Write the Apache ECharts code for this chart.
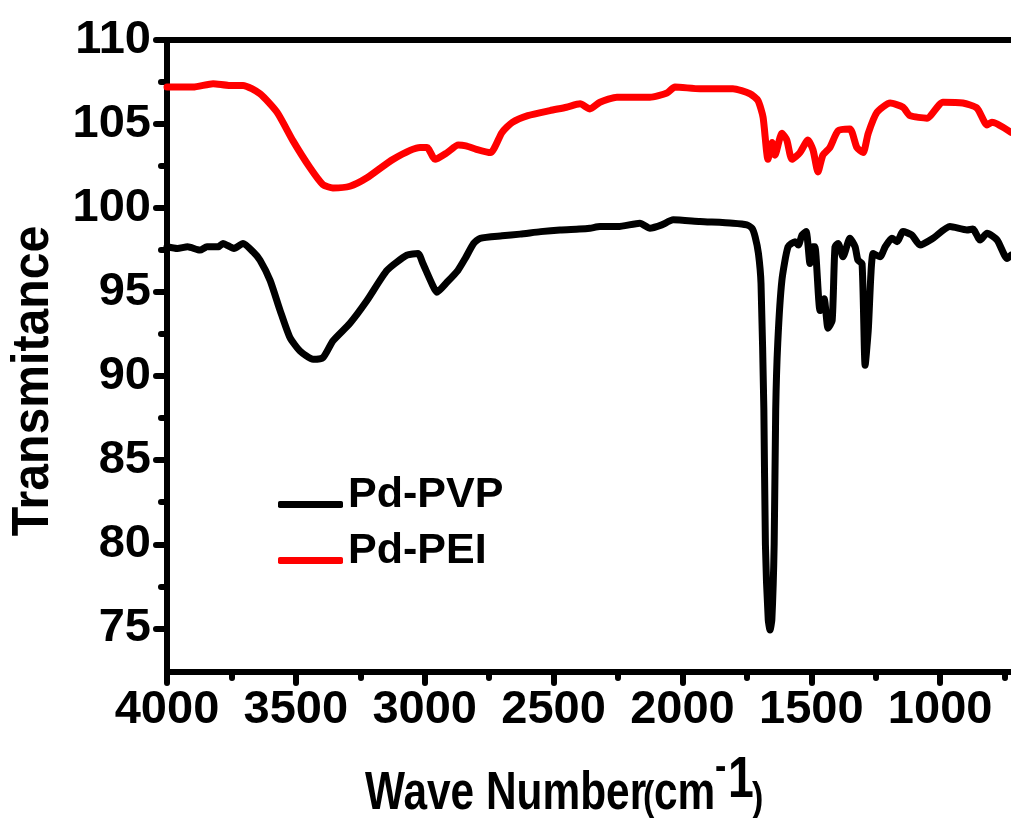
<!DOCTYPE html>
<html>
<head>
<meta charset="utf-8">
<script src="https://cdn.jsdelivr.net/npm/echarts@6/dist/echarts.min.js"></script>
<style>html,body{margin:0;padding:0;background:#fff}#c{width:1011px;height:818px}</style>
</head>
<body>
<div id="c"></div>
<script>
// ---- data ----
const pvpWave = [4000,3960,3920,3872,3845,3800,3783,3740,3705,3666,3639,3600,3561,3523,3484,3433,3395,3356,3290,3224,3146,3069,3026,3007,2972,2953,2913,2871,2843,2810,2785,2700,2630,2550,2475,2400,2359,2320,2250,2165,2126,2080,2036,1932,1804,1750,1730,1718,1705,1695,1684,1678,1667,1660,1653,1644,1638,1630,1614,1590,1563,1550,1536,1520,1505,1495,1486,1466,1450,1435,1419,1408,1396,1377,1350,1330,1319,1303,1291,1279,1260,1233,1213,1187,1167,1144,1110,1078,1028,962,896,873,845,818,779,740,725];
const pvpT    = [97.7,97.6,97.7,97.5,97.7,97.7,97.9,97.6,97.9,97.4,96.9,95.7,93.9,92.3,91.5,91.0,91.1,92.1,93.15,94.5,96.3,97.2,97.3,96.7,95.5,95.0,95.6,96.3,97.0,97.9,98.2,98.35,98.45,98.6,98.7,98.75,98.8,98.9,98.9,99.1,98.8,99.0,99.3,99.2,99.1,99.0,98.8,98.3,97.3,95.5,88,80,75.5,74.9,75.5,80,88,92,95.7,97.7,98.0,97.8,98.4,98.6,96.7,97.7,97.7,93.9,94.6,92.85,93.3,97.7,97.9,97.1,98.2,97.7,96.9,96.7,90.65,92.7,97.3,97.1,97.7,98.2,98.0,98.6,98.4,97.8,98.2,98.9,98.7,98.75,98.1,98.5,98.1,97.0,97.2];
const peiWave = [4000,3950,3899,3821,3760,3705,3639,3573,3511,3445,3395,3356,3290,3224,3123,3018,2991,2960,2913,2870,2840,2800,2745,2700,2660,2600,2514,2450,2397,2359,2320,2254,2126,2060,2029,1932,1804,1738,1707,1687,1668,1652,1641,1614,1595,1575,1544,1513,1493,1474,1455,1428,1396,1350,1323,1299,1279,1245,1194,1144,1117,1051,989,912,857,818,799,725];
const peiT    = [107.2,107.2,107.2,107.4,107.3,107.3,106.8,105.7,104.0,102.4,101.4,101.2,101.3,101.8,102.9,103.6,103.6,102.9,103.3,103.75,103.7,103.5,103.3,104.5,105.1,105.5,105.8,106.0,106.2,105.9,106.3,106.6,106.6,106.85,107.2,107.1,107.1,106.8,106.4,105.4,102.9,103.9,103.15,104.45,104.05,102.9,103.3,104.05,103.45,102.15,103.15,103.6,104.6,104.7,103.6,103.3,104.45,105.7,106.25,106.0,105.5,105.35,106.3,106.25,105.95,104.95,105.1,104.5];
const seriesNames = ['Pd-PVP','Pd-PEI'];
const xMajor = [1000,1500,2000,2500,3000,3500,4000];
const xMinor = [750,1250,1750,2250,2750,3250,3750];
const yMajor = [75,80,85,90,95,100,105,110];
const yMinor = [77.5,82.5,87.5,92.5,97.5,102.5,107.5];
const yTitle = 'Transmitance';

const zip = (a,b) => a.map((v,i)=>[v,b[i]]);
const labelFont = "'Liberation Sans Narrow','Liberation Sans',Arial,sans-serif";
const tickStyle = {color:'#000', width:6, cap:'round'};

const chart = echarts.init(document.getElementById('c'), null, {renderer:'canvas'});
chart.setOption({
  animation:false,
  backgroundColor:'#fff',
  grid:{left:167,right:0,top:40,bottom:146,containLabel:false},
  legend:{
    left:278, top:474, orient:'vertical', padding:0,
    icon:'roundRect', itemWidth:65, itemHeight:7, itemGap:-5, itemTextGap:3,
    data:seriesNames,
    formatter:name => '{t|' + name + '}',
    textStyle:{color:'#000',fontFamily:"'Liberation Sans',Arial,sans-serif",fontWeight:'bold',fontSize:43,
      rich:{t:{color:'#000',fontFamily:"'Liberation Sans',Arial,sans-serif",fontWeight:'bold',fontSize:43,lineHeight:43,padding:[0,0,18,0]}}}
  },
  xAxis:[
    {type:'value',min:725,max:4000,inverse:true,position:'bottom',
     axisLine:{show:true,onZero:false,lineStyle:{color:'#000',width:6}},
     axisTick:{show:true,length:11,customValues:xMajor,lineStyle:tickStyle},
     axisLabel:{show:true,customValues:xMajor,margin:15,color:'#000',fontFamily:labelFont,fontWeight:'bold',fontSize:47,formatter:v=>String(v)},
     splitLine:{show:false}},
    {type:'value',min:725,max:4000,inverse:true,position:'bottom',
     axisLine:{show:false,onZero:false},
     axisTick:{show:true,length:6,customValues:xMinor,lineStyle:tickStyle},
     axisLabel:{show:false},splitLine:{show:false}},
    {type:'value',min:725,max:4000,inverse:true,position:'top',
     axisLine:{show:true,onZero:false,lineStyle:{color:'#000',width:6}},
     axisTick:{show:false},axisLabel:{show:false},splitLine:{show:false}}
  ],
  yAxis:[
    {type:'value',min:72.4,max:110,position:'left',
     axisLine:{show:true,onZero:false,lineStyle:{color:'#000',width:6}},
     axisTick:{show:true,length:11,customValues:yMajor,lineStyle:tickStyle},
     axisLabel:{show:true,customValues:yMajor,margin:16,color:'#000',fontFamily:labelFont,fontWeight:'bold',fontSize:47,formatter:v=>String(v)},
     splitLine:{show:false}},
    {type:'value',min:72.4,max:110,position:'left',
     axisLine:{show:false,onZero:false},
     axisTick:{show:true,length:6,customValues:yMinor,lineStyle:tickStyle},
     axisLabel:{show:false},splitLine:{show:false}}
  ],
  graphic:[
    {type:'text',x:34,y:381,rotation:Math.PI/2,scaleX:0.926,
     style:{text:yTitle,x:0,y:0,font:"bold 52px 'Liberation Sans',Arial,sans-serif",fill:'#000',align:'center',verticalAlign:'middle',textAlign:'center',textVerticalAlign:'middle'}},
    {type:'text',x:365,y:794,scaleX:0.8,
     style:{text:'Wave Number',x:0,y:0,font:"bold 53px 'Liberation Sans',Arial,sans-serif",fill:'#000',align:'left',verticalAlign:'middle',textAlign:'left',textVerticalAlign:'middle'}},
    {type:'text',x:643,y:799,scaleX:0.85,
     style:{text:'(',x:0,y:0,font:"bold 40px 'Liberation Sans',Arial,sans-serif",fill:'#000',align:'left',verticalAlign:'middle',textAlign:'left',textVerticalAlign:'middle'}},
    {type:'text',x:654,y:794,scaleX:0.8,
     style:{text:'cm',x:0,y:0,font:"bold 53px 'Liberation Sans',Arial,sans-serif",fill:'#000',align:'left',verticalAlign:'middle',textAlign:'left',textVerticalAlign:'middle'}},
    {type:'text',x:715,y:768,scaleX:0.85,
     style:{text:'-',x:0,y:0,font:"bold 40px 'Liberation Sans',Arial,sans-serif",fill:'#000',align:'left',verticalAlign:'middle',textAlign:'left',textVerticalAlign:'middle'}},
    {type:'text',x:728,y:781,scaleX:0.8,
     style:{text:'1',x:0,y:0,font:"bold 58px 'Liberation Sans',Arial,sans-serif",fill:'#000',align:'left',verticalAlign:'middle',textAlign:'left',textVerticalAlign:'middle'}},
    {type:'text',x:752,y:800,scaleX:0.85,
     style:{text:')',x:0,y:0,font:"bold 40px 'Liberation Sans',Arial,sans-serif",fill:'#000',align:'left',verticalAlign:'middle',textAlign:'left',textVerticalAlign:'middle'}}
  ],
  series:[
    {name:seriesNames[0],type:'line',data:zip(pvpWave,pvpT),xAxisIndex:0,yAxisIndex:0,
     showSymbol:false,symbol:'none',smooth:0.2,color:'#000',
     lineStyle:{color:'#000',width:7,join:'round',cap:'round'}},
    {name:seriesNames[1],type:'line',data:zip(peiWave,peiT),xAxisIndex:0,yAxisIndex:0,
     showSymbol:false,symbol:'none',smooth:0.2,color:'#ff0000',
     lineStyle:{color:'#ff0000',width:7,join:'round',cap:'round'}}
  ]
});
</script>
</body>
</html>
